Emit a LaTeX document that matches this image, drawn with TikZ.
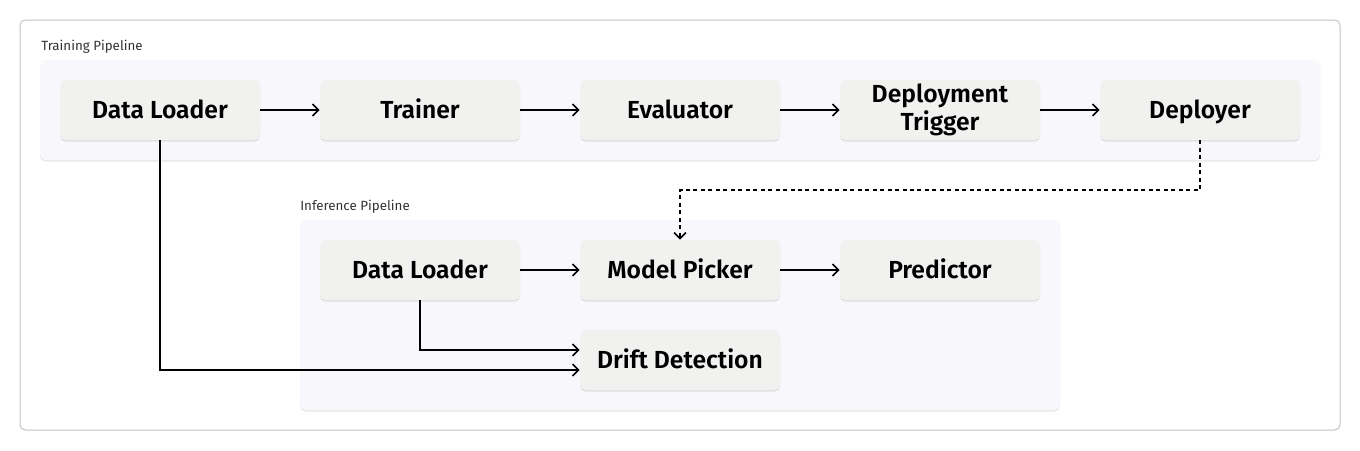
\documentclass[tikz,border=0pt]{standalone}
\usepackage{fontspec}
\setmainfont{Fira Sans}
\newfontfamily\nodefont{Fira Sans SemiBold}
\usetikzlibrary{arrows.meta,shadows}
\definecolor{framegray}{HTML}{C4C4C4}
\definecolor{groupfill}{HTML}{F8F8FC}
\definecolor{boxfill}{HTML}{F1F1F0}
\definecolor{labelgray}{HTML}{333333}
\tikzset{
  frame/.style={draw=framegray, line width=0.75pt, fill=white, rounded corners=4pt},
  group/.style={fill=groupfill, rounded corners=4pt, drop shadow={opacity=0.18, shadow xshift=0pt, shadow yshift=-1.2pt}},
  stepbase/.style={fill=boxfill, rounded corners=4pt, minimum width=150pt, minimum height=45pt, inner sep=0pt,
    align=center, font=\nodefont\fontsize{18.5}{21}\selectfont, text=black,
    drop shadow={opacity=0.2, shadow xshift=0pt, shadow yshift=-1.2pt}},
  stepbox/.style={stepbase, text height=13pt, text depth=0pt},
  grouplabel/.style={anchor=west, inner sep=0pt, font=\fontsize{10}{12}\selectfont, text=labelgray},
  flow/.style={draw=black, line width=1.4pt, -{Straight Barb[length=4.5pt,width=9pt,line width=1.2pt]}},
  dashflow/.style={flow, line width=1.2pt, dash pattern=on 3pt off 2.6pt}
}
\begin{document}
\begin{tikzpicture}[x=0.75pt,y=-0.75pt]
\useasboundingbox (0,0) rectangle (1360,450);
\draw[frame] (20,20) rectangle (1340,430);
% groups
\path[group] (40,60) rectangle (1320,160);
\node[grouplabel] (tl) at (41,47) {Training Pipeline};
\path[group] (300,220) rectangle (1060,410);
\node[grouplabel] (il) at (300,207) {Inference Pipeline};
% training nodes
\node[stepbox] (dl1) at (160,110) {Data Loader};
\node[stepbox] (tr) at (420,110) {Trainer};
\node[stepbox] (ev) at (680,110) {Evaluator};
\node[stepbase] (dt) at (940,110) {Deployment\\Trigger};
\node[stepbox] (dp) at (1200,110) {Deployer};
% inference nodes
\node[stepbox] (dl2) at (420,270) {Data Loader};
\node[stepbox] (mp) at (680,270) {Model Picker};
\node[stepbox] (pr) at (940,270) {Predictor};
\node[stepbox] (dd) at (680,360) {Drift Detection};
% connectors
\draw[flow] (dl1) -- (tr);
\draw[flow] (tr) -- (ev);
\draw[flow] (ev) -- (dt);
\draw[flow] (dt) -- (dp);
\draw[flow] (dl2) -- (mp);
\draw[flow] (mp) -- (pr);
\draw[flow] (dl2.south) |- ([yshift=7.5pt]dd.west);
\draw[flow] (dl1.south) |- ([yshift=-7.5pt]dd.west);
\draw[dashflow] (dp.south) -- ++(0,50) -| (mp.north);
\end{tikzpicture}
\end{document}
